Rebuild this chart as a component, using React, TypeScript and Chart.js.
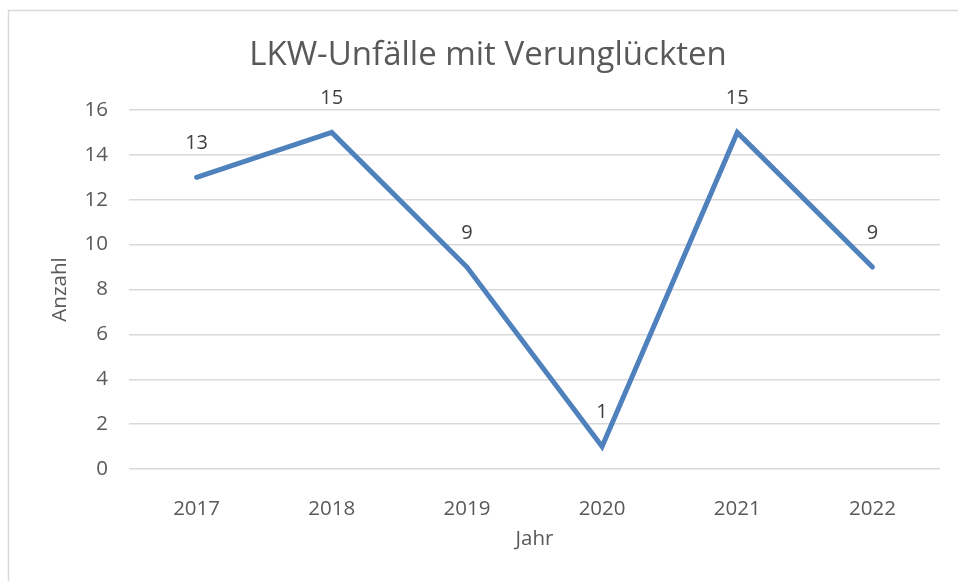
import React, { useEffect, useRef } from "react";
import { Chart, registerables } from "chart.js";

Chart.register(...registerables);

const years = ["2017", "2018", "2019", "2020", "2021", "2022"];
const accidents = [13, 15, 9, 1, 15, 9];
const chartTitle = "LKW-Unfälle mit Verunglückten";
const xTitle = "Jahr";
const yTitle = "Anzahl";

const FONT = "'Open Sans', 'Liberation Sans', sans-serif";

const frame = {
  id: "frame",
  beforeDraw(chart: any) {
    const ctx = chart.ctx;
    ctx.save();
    ctx.fillStyle = "#ffffff";
    ctx.fillRect(0, 0, chart.width, chart.height);
    ctx.strokeStyle = "#d9d9d9";
    ctx.lineWidth = 1.5;
    ctx.beginPath();
    ctx.moveTo(8.5, chart.height);
    ctx.lineTo(8.5, 10.5);
    ctx.lineTo(chart.width, 10.5);
    ctx.stroke();
    ctx.font = `33px ${FONT}`;
    ctx.fillStyle = "#595959";
    ctx.textAlign = "center";
    ctx.textBaseline = "middle";
    ctx.fillText(chartTitle, 488, 56);
    ctx.restore();
  },
};

const labels = {
  id: "valueLabels",
  afterDatasetsDraw(chart: any) {
    const ctx = chart.ctx;
    const meta = chart.getDatasetMeta(0);
    ctx.save();
    ctx.font = `20px ${FONT}`;
    ctx.fillStyle = "#404040";
    ctx.textAlign = "center";
    ctx.textBaseline = "middle";
    meta.data.forEach((pt: any, i: number) => {
      ctx.fillText(String(chart.data.datasets[0].data[i]), pt.x, pt.y - 34);
    });
    ctx.restore();
  },
};

export default function App() {
  const ref = useRef<HTMLCanvasElement>(null);
  useEffect(() => {
    const chart = new Chart(ref.current!, {
      type: "line",
      data: {
        labels: years,
        datasets: [
          {
            data: accidents,
            borderColor: "#4f81bd",
            borderWidth: 5,
            borderCapStyle: "round",
            borderJoinStyle: "miter",
            pointRadius: 0,
            pointHoverRadius: 0,
            tension: 0,
            fill: false,
          },
        ],
      },
      options: {
        animation: false,
        responsive: false,
        maintainAspectRatio: false,
        layout: { padding: { left: 0, right: 18, top: 110, bottom: 0 } },
        plugins: {
          legend: { display: false },
          tooltip: { enabled: false },
          title: { display: false },
        },
        scales: {
          x: {
            offset: true,
            grid: { display: false },
            border: { display: false },
            ticks: {
              color: "#595959",
              font: { family: FONT, size: 20.5 },
              padding: 20,
            },
            title: {
              display: true,
              text: xTitle,
              color: "#595959",
              font: { family: FONT, size: 20.5 },
              padding: { top: 0, bottom: 30 },
            },
            afterFit: (s: any) => {
              s.height = 112;
            },
          },
          y: {
            min: 0,
            max: 16,
            ticks: {
              stepSize: 2,
              color: "#595959",
              font: { family: FONT, size: 20.5 },
              padding: 21,
            },
            grid: {
              color: "#d9d9d9",
              lineWidth: 1.5,
              drawTicks: false,
            },
            border: { display: false },
            title: {
              display: true,
              text: yTitle,
              color: "#595959",
              font: { family: FONT, size: 20.5 },
              padding: { top: 48, bottom: 0 },
            },
            afterFit: (s: any) => {
              s.width = 129;
            },
          },
        },
      },
      plugins: [frame, labels],
    });
    return () => chart.destroy();
  }, []);
  return (
    <div style={{ position: "fixed", left: 0, top: 0, width: 958, height: 581 }}>
      <canvas ref={ref} width={958} height={581} style={{ width: 958, height: 581 }} />
    </div>
  );
}
